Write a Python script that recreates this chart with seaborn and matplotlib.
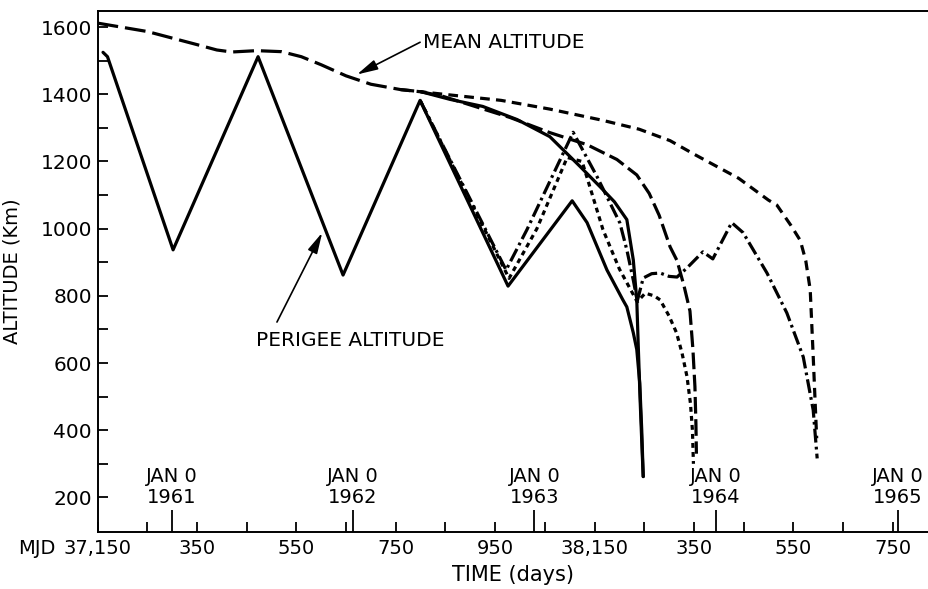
import matplotlib
matplotlib.use("Agg")
import matplotlib.pyplot as plt
import seaborn as sns
import pandas as pd

# ---------------- data (MJD, km) ----------------
mean_common_mjd = [37150, 37250, 37350, 37390, 37420, 37470, 37520, 37560, 37600, 37650, 37700, 37760, 37800]
mean_common_km = [1612, 1587, 1548, 1532, 1526, 1530, 1527, 1512, 1488, 1455, 1430, 1414, 1408]

mean3_mjd = [37760, 37860, 37962, 38060, 38165, 38240, 38302, 38350, 38440, 38500, 38517, 38545, 38564,
             38575, 38584, 38590, 38594, 38597]
mean3_km = [1414, 1398, 1382, 1356, 1323, 1296, 1262, 1222, 1150, 1085, 1070, 1010, 965,
            905, 818, 620, 480, 376]

mean2_mjd = [37800, 37845, 37980, 38060, 38135, 38195, 38235, 38260, 38280, 38302, 38316, 38330, 38342,
             38348, 38352, 38354, 38355]
mean2_km = [1408, 1394, 1331, 1286, 1250, 1206, 1160, 1105, 1040, 946, 905, 830, 755,
            640, 530, 420, 330]

mean1_mjd = [37800, 37859, 37925, 37994, 38060, 38121, 38161, 38190, 38215, 38228, 38235, 38238, 38242,
             38246, 38248]
mean1_km = [1408, 1385, 1364, 1325, 1274, 1185, 1125, 1080, 1027, 907, 788, 650, 480, 330, 262]

perA_mjd = [37161, 37170, 37302, 37473, 37644, 37799, 37976, 38105, 38135, 38175, 38207, 38215, 38228,
            38235, 38241, 38245, 38248]
perA_km = [1525, 1512, 937, 1512, 862, 1382, 829, 1083, 1018, 877, 788, 767, 690, 640, 540, 400, 262]

perB_mjd = [37799, 37978, 38034, 38095, 38125, 38167, 38200, 38236, 38252, 38270, 38282, 38300, 38315,
            38326, 38336, 38343, 38347, 38349]
perB_km = [1382, 852, 1000, 1212, 1200, 997, 880, 782, 808, 800, 788, 740, 690, 630, 560, 480, 400, 300]

perC_mjd = [37799, 37972, 38014, 38107, 38155, 38201, 38215, 38228, 38236, 38248, 38265, 38282, 38300,
            38316, 38336, 38368, 38388, 38426, 38449, 38497, 38537, 38570, 38590, 38598]
perC_km = [1382, 877, 997, 1287, 1155, 1017, 937, 847, 785, 853, 866, 868, 858,
           856, 883, 931, 910, 1018, 988, 868, 749, 618, 460, 316]

x_major = [37150, 37350, 37550, 37750, 37950, 38150, 38350, 38550, 38750]
x_major_labels = ["37,150", "350", "550", "750", "950", "38,150", "350", "550", "750"]
x_minor = [37250, 37450, 37650, 37850, 38050, 38250, 38450, 38650]
y_major = [200, 400, 600, 800, 1000, 1200, 1400, 1600]
y_minor = [300, 500, 700, 900, 1100, 1300, 1500]
jan0_mjd = [37299, 37664, 38029, 38394, 38760]
jan0_years = ["1961", "1962", "1963", "1964", "1965"]

# ---------------- style ----------------
sns.set_theme(style="ticks")
plt.rcParams['font.family'] = ['DejaVu Sans']
plt.rcParams['lines.scale_dashes'] = False

fig = plt.figure(figsize=(9.29, 5.89), dpi=100)
ax = fig.add_axes([0.105, 0.0968, 0.895, 0.8845])


def draw(mjd, km, dashes=None, lw=2.3):
    df = pd.DataFrame({"mjd": mjd, "km": km})
    sns.lineplot(data=df, x="mjd", y="km", ax=ax, color="black", linewidth=lw,
                 sort=False, estimator=None, legend=False)
    line = ax.lines[-1]
    if dashes is not None:
        line.set_dashes(dashes)


draw(mean_common_mjd, mean_common_km, dashes=(15, 5))
draw(mean3_mjd, mean3_km, dashes=(7, 4.5))
draw(mean2_mjd, mean2_km, dashes=(12, 4))
draw(mean1_mjd, mean1_km)
draw(perA_mjd, perA_km)
draw(perB_mjd, perB_km, dashes=(3.5, 3))
draw(perC_mjd, perC_km, dashes=(10, 3, 2, 3))

ax.set_xlim(37150, 38823)
ax.set_ylim(97, 1648)

ax.set_xticks(x_major, x_major_labels)
ax.set_xticks(x_minor, minor=True)
ax.set_yticks(y_major, [str(v) for v in y_major])
ax.set_yticks(y_minor, minor=True)
ax.tick_params(which="both", direction="in", length=7, width=1.3, colors="black",
               top=False, right=False)
ax.tick_params(axis="x", labelsize=14, pad=5)
ax.tick_params(axis="y", labelsize=14.5, pad=4)

sec = ax.secondary_xaxis("bottom")
sec.set_xticks(jan0_mjd)
sec.tick_params(direction="in", length=16, width=1.3, labelbottom=False, colors="black")

for s in ["left", "bottom", "top"]:
    ax.spines[s].set_linewidth(1.4)
    ax.spines[s].set_color("black")
ax.spines["right"].set_visible(False)
sec.spines["bottom"].set_visible(False)

ax.set_xlabel("")
ax.set_ylabel("ALTITUDE (Km)", fontsize=14, color="black")
ax.yaxis.set_label_coords(-0.091, 0.5)
ax.text(0.5, -0.0825, "TIME (days)", transform=ax.transAxes, ha="center", va="center",
        fontsize=15, color="black")
ax.annotate("MJD", xy=(0, 0), xycoords="axes fraction", xytext=(-30, -5),
            textcoords="offset points", ha="right", va="top", fontsize=14, color="black")

for m, yr in zip(jan0_mjd, jan0_years):
    ax.text(m, 262, "JAN 0", ha="center", va="center", fontsize=14, color="black")
    ax.text(m, 200, yr, ha="center", va="center", fontsize=14, color="black")

arrow = dict(arrowstyle="-|>,head_length=0.9,head_width=0.22", lw=1.2, color="black",
             mutation_scale=14, shrinkA=0, shrinkB=0)
ax.annotate("", xy=(37672, 1459), xytext=(37799, 1555), arrowprops=arrow)
ax.text(37805, 1555, "MEAN ALTITUDE", ha="left", va="center", fontsize=14.5, color="black")
ax.annotate("", xy=(37602, 988), xytext=(37511, 722), arrowprops=arrow)
ax.text(37658, 668, "PERIGEE ALTITUDE", ha="center", va="center", fontsize=14.5, color="black")

fig.savefig("out.png", dpi=100)
